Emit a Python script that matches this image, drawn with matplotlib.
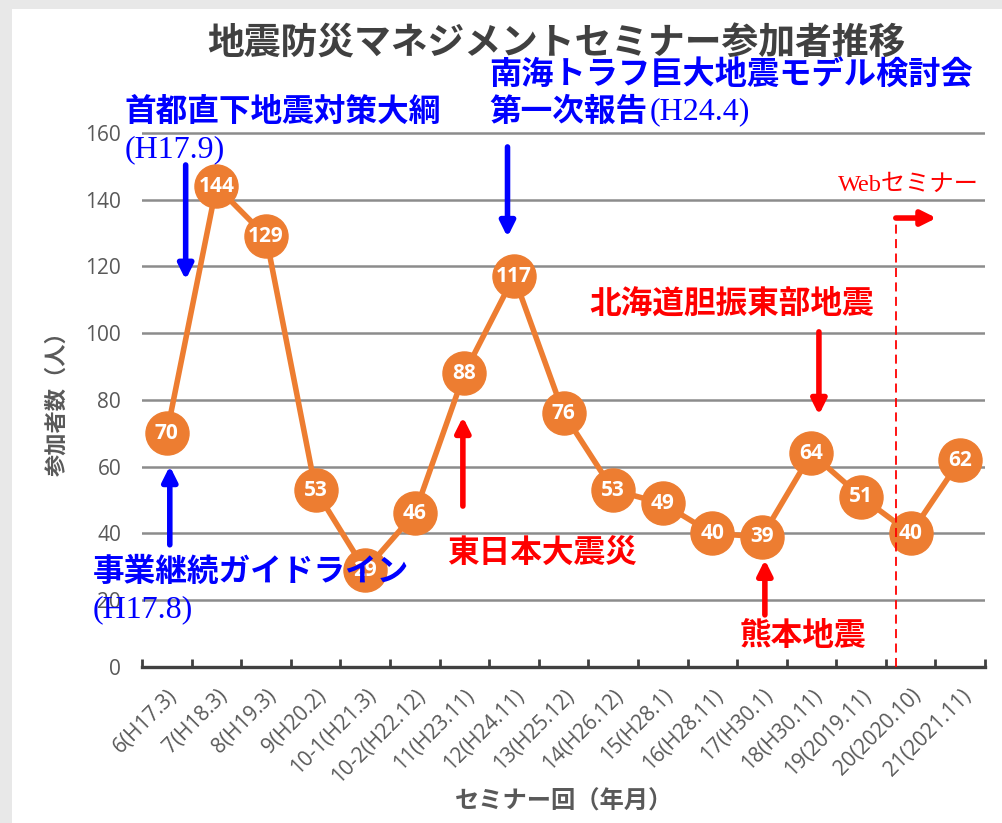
import matplotlib
matplotlib.use('Agg')
import matplotlib.pyplot as plt
from matplotlib.patches import Rectangle

plt.rcParams['font.family'] = ['Noto Sans CJK JP', 'DejaVu Sans']

# データ
labels = ['6(H17.3)', '7(H18.3)', '8(H19.3)', '9(H20.2)', '10-1(H21.3)', '10-2(H22.12)',
          '11(H23.11)', '12(H24.11)', '13(H25.12)', '14(H26.12)', '15(H28.1)', '16(H28.11)',
          '17(H30.1)', '18(H30.11)', '19(2019.11)', '20(2020.10)', '21(2021.11)']
values = [70, 144, 129, 53, 29, 46, 88, 117, 76, 53, 49, 40, 39, 64, 51, 40, 62]
yticks = [0, 20, 40, 60, 80, 100, 120, 140, 160]

orange, grid_c, txt_c = '#ED7D31', '#8c8c8c', '#595959'
blue, red = '#0000FF', '#FF0000'
serif = ['Liberation Serif', 'Noto Sans CJK JP']
num = ['Open Sans', 'DejaVu Sans']

fig = plt.figure(figsize=(10.03, 8.23), dpi=100, facecolor='#e8e8e8')
fig.patches.append(Rectangle((12/1003, 0), 1, 1 - 9/823, transform=fig.transFigure,
                             facecolor='white', edgecolor='none', zorder=-10))
ax = fig.add_axes([0.1416, 0.1896, 0.8405, 0.6489 * 161 / 160])
ax.set_facecolor('none')

x = list(range(len(values)))
ax.plot(x, values, '-o', color=orange, lw=4, ms=31, mec=orange, zorder=3)
for i, v in zip(x, values):
    ax.text(i, v, str(v), color='white', fontsize=15, fontweight='bold', family=num,
            ha='center', va='center', zorder=4)

ax.set_xlim(-0.5, len(values) - 0.5)
ax.set_ylim(0, 161)
ax.set_yticks(yticks)
ax.set_yticklabels([str(t) for t in yticks], fontsize=15, color=txt_c, family=num)
ax.yaxis.grid(True, color=grid_c, lw=1.8)
ax.set_axisbelow(True)
ax.tick_params(axis='y', length=0, pad=15)
ax.set_xticks([i - 0.5 for i in range(len(values) + 1)], minor=False)
ax.set_xticklabels([''] * (len(values) + 1))
ax.set_xticks(x, minor=True)
ax.set_xticklabels(labels, minor=True, rotation=45, ha='right', rotation_mode='anchor',
                   fontsize=15, color=txt_c, family=num)
ax.tick_params(axis='x', which='major', direction='in', length=6, width=2, color='#404040')
ax.tick_params(axis='x', which='minor', length=0, pad=13)
for s in ['top', 'right', 'left']:
    ax.spines[s].set_visible(False)
ax.spines['bottom'].set_color('#404040')
ax.spines['bottom'].set_linewidth(2.4)

ax.set_ylabel('参加者数（人）', fontsize=16, fontweight='bold', color=txt_c, labelpad=12)
ax.set_xlabel('セミナー回（年月）', fontsize=17.5, fontweight='bold', color=txt_c, labelpad=2)
fig.text(0.555, 0.947, '地震防災マネジメントセミナー参加者推移', fontsize=26.5,
         fontweight='bold', color='#404040', ha='center', va='center')


def arrow(x0, y0, x1, y1, c):
    ax.annotate('', xy=(x1, y1), xytext=(x0, y0), annotation_clip=False,
                arrowprops=dict(arrowstyle='-|>', color=c, lw=4, mutation_scale=22,
                                shrinkA=0, shrinkB=0), zorder=5)


def note(xp, yp, s, c, bold=True, size=22.8, fam=None):
    ax.text(xp, yp, s, color=c, fontsize=size, fontweight='bold' if bold else 'normal',
            ha='left', va='center', clip_on=False, zorder=6, family=fam)

# 青：指針・報告
arrow(0.38, 150.4, 0.38, 116, blue)
arrow(6.87, 155.8, 6.87, 128.8, blue)
arrow(0.06, 36.6, 0.06, 60.2, blue)
note(-0.85, 166.3, '首都直下地震対策大綱', blue)
note(-0.85, 154.9, '(H17.9)', blue, bold=False, size=23, fam=serif)
note(6.51, 177.4, '南海トラフ巨大地震モデル検討会', blue, size=23.2)
note(6.51, 166.3, '第一次報告', blue)
note(9.74, 166.3, '(H24.4)', blue, bold=False, size=23, fam=serif)
note(-1.49, 28.5, '事業継続ガイドライン', blue)
note(-1.49, 17.1, '(H17.8)', blue, bold=False, size=23, fam=serif)

# 赤：地震
arrow(5.97, 48.2, 5.97, 74.9, red)
arrow(13.15, 100.4, 13.15, 75.5, red)
arrow(12.06, 15.6, 12.06, 32.1, red)
note(8.53, 109, '北海道胆振東部地震', red)
note(5.65, 34.2, '東日本大震災', red)
note(11.55, 9.3, '熊本地震', red)

# Webセミナー
ax.plot([14.7, 14.7], [0, 134.5], color=red, lw=1.3, ls=(0, (5, 3)), clip_on=False, zorder=5)
arrow(14.7, 134.5, 15.52, 134.5, red)
note(13.53, 144.4, 'Webセミナー', red, bold=False, size=17.5, fam=serif)

fig.savefig('out.png', dpi=100, facecolor=fig.get_facecolor())
